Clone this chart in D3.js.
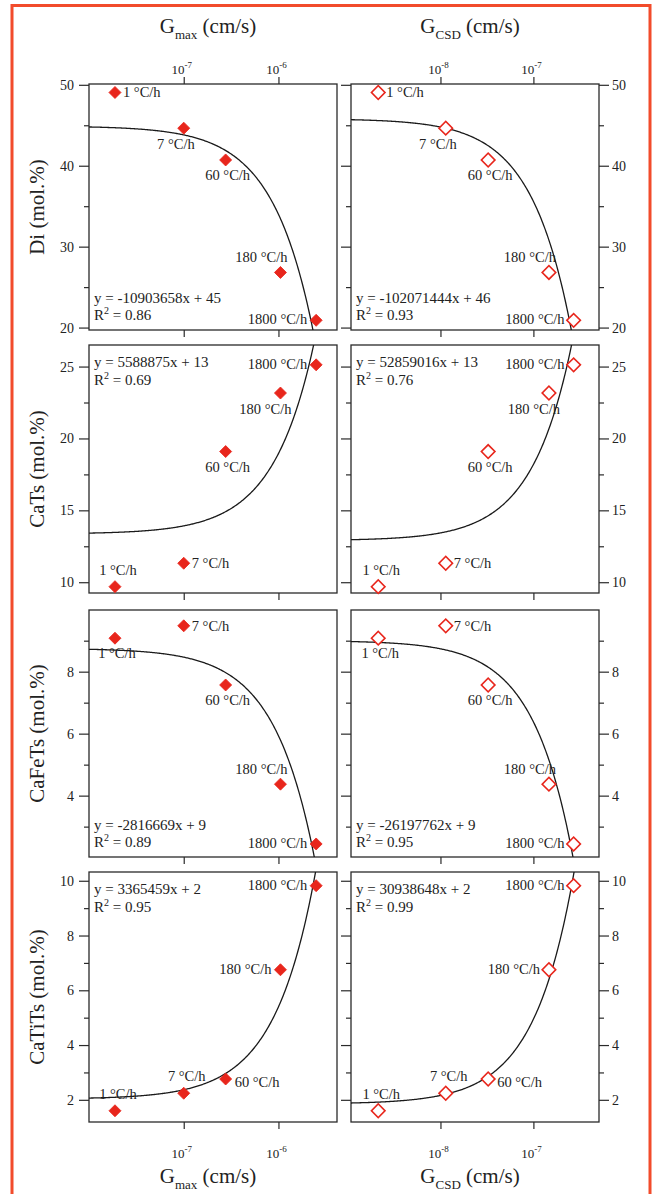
<!DOCTYPE html>
<html>
<head>
<meta charset="utf-8">
<script src="https://cdn.jsdelivr.net/npm/d3@7"></script>
<style>
  body { margin: 0; background: #fff; }
  svg text { font-family: "Liberation Serif", "Times New Roman", serif; fill: #222; }
</style>
</head>
<body>
<svg id="chart" width="656" height="1194"></svg>
<script>
// cooling rates (one point per rate in every panel)
const rates = ["1 °C/h", "7 °C/h", "60 °C/h", "180 °C/h", "1800 °C/h"];

// growth rates, cm/s
const gMax = [1.88e-8, 1.0e-7, 2.77e-7, 1.05e-6, 2.5e-6];
const gCsd = [2.14e-9, 1.14e-8, 3.26e-8, 1.47e-7, 2.71e-7];

// compositions, mol.%
const rowNames = ["Di", "CaTs", "CaFeTs", "CaTiTs"];
const di = [49.05, 44.64, 40.71, 26.81, 20.9];
const caTs = [9.69, 11.32, 19.09, 23.16, 25.12];
const caFeTs = [9.08, 9.48, 7.57, 4.37, 2.44];
const caTiTs = [1.6, 2.24, 2.76, 6.75, 9.82];
const rowValues = [di, caTs, caFeTs, caTiTs];

// linear fits y = a*x + b (b, eqInt as printed)
const slopeMax = [-10903658, 5588875, -2816669, 3365459];
const interceptMax = [44.9, 13.36, 8.75, 2.03];
const eqIntMax = [45, 13, 9, 2];
const r2Max = ["0.86", "0.69", "0.89", "0.95"];
const slopeCsd = [-102071444, 52859016, -26197762, 30938648];
const interceptCsd = [45.8, 12.9, 9.0, 1.85];
const eqIntCsd = [46, 13, 9, 2];
const r2Csd = ["0.93", "0.76", "0.95", "0.99"];

// axes
const yDomains = [[19.7, 50.1], [9.25, 26.5], [2.02, 9.99], [1.19, 10.32]];
const yMajor = [[20, 30, 40, 50], [10, 15, 20, 25], [4, 6, 8], [2, 4, 6, 8, 10]];
const yMinor = [[25, 35, 45], [12.5, 17.5, 22.5], [3, 5, 7, 9], [3, 5, 7, 9]];
const xDomMax = [1e-8, 4.15e-6];
const xDomCsd = [1.09e-9, 5.08e-7];
const xTicksMax = [1e-7, 1e-6];
const xExpMax = ["-7", "-6"];
const xTicksCsd = [1e-8, 1e-7];
const xExpCsd = ["-8", "-7"];

// ---- layout ----
const red = "#e8261c";
const ink = "#2a2a2a";
const font = "'Liberation Serif', 'Times New Roman', serif";

const cols = [
  { x0: 89, x1: 337, dom: xDomMax, g: gMax, ticks: xTicksMax, exps: xExpMax,
    slope: slopeMax, icpt: interceptMax, eqInt: eqIntMax, r2: r2Max, filled: true, sub: "max" },
  { x0: 351, x1: 599, dom: xDomCsd, g: gCsd, ticks: xTicksCsd, exps: xExpCsd,
    slope: slopeCsd, icpt: interceptCsd, eqInt: eqIntCsd, r2: r2Csd, filled: false, sub: "CSD" },
];
const rows = [
  { y0: 84, y1: 330, eqTop: false },
  { y0: 345, y1: 593, eqTop: true },
  { y0: 610, y1: 857, eqTop: false },
  { y0: 872, y1: 1122, eqTop: true },
];

// where each rate label sits relative to its point
const place = {
  r: { a: "start", dx: 8, dy: 5 },
  l: { a: "end", dx: -9, dy: 4 },
  b: { a: "middle", dx: 2, dy: 20 },
  bl: { a: "end", dx: 11, dy: 21 },
  al: { a: "end", dx: 7, dy: -10 },
  a: { a: "middle", dx: 3, dy: -12 },
  rb: { a: "start", dx: 9, dy: 8 },
};
const rowPlace = [
  ["r", "bl", "b", "al", "l"],
  ["a", "r", "b", "bl", "l"],
  ["b", "r", "b", "al", "l"],
  ["a", "a", "rb", "l", "l"],
];

const svg = d3.select("#chart");

// outer red frame (bottom edge runs off the page)
svg.append("rect")
  .attr("x", 12).attr("y", 5.5)
  .attr("width", 638).attr("height", 1260)
  .attr("fill", "none")
  .attr("stroke", "#f24b2b")
  .attr("stroke-width", 3);

const defs = svg.append("defs");

function styleAxis(sel) {
  sel.attr("color", ink).attr("font-family", font);
  sel.select(".domain").remove();
  sel.selectAll("line").attr("stroke-width", 1.2);
}

function powerLabel(sel, x, y, exp) {
  const t = sel.append("text")
    .attr("x", x).attr("y", y)
    .attr("text-anchor", "middle")
    .attr("font-size", 13);
  t.append("tspan").text("10");
  t.append("tspan").attr("dy", -6).attr("font-size", 9).text(exp);
}

rows.forEach((row, r) => {
  cols.forEach((col, c) => {
    const x = d3.scaleLog().domain(col.dom).range([col.x0, col.x1]);
    const y = d3.scaleLinear().domain(yDomains[r]).range([row.y1, row.y0]);
    const g = svg.append("g");
    const clipId = `clip-${r}-${c}`;

    defs.append("clipPath").attr("id", clipId)
      .append("rect")
      .attr("x", col.x0).attr("y", row.y0)
      .attr("width", col.x1 - col.x0).attr("height", row.y1 - row.y0);

    // y axes
    if (c === 0) {
      g.append("g").attr("transform", `translate(${col.x0},0)`)
        .call(d3.axisLeft(y).tickValues(yMajor[r]).tickSize(10).tickPadding(5).tickFormat(d3.format("d")))
        .call(styleAxis)
        .selectAll("text").attr("font-size", 14);
      g.append("g").attr("transform", `translate(${col.x0},0)`)
        .call(d3.axisLeft(y).tickValues(yMinor[r]).tickSize(5).tickFormat(""))
        .call(styleAxis);
    } else {
      g.append("g").attr("transform", `translate(${col.x1},0)`)
        .call(d3.axisRight(y).tickValues(yMajor[r]).tickSize(10).tickPadding(3).tickFormat(d3.format("d")))
        .call(styleAxis)
        .selectAll("text").attr("font-size", 14);
      g.append("g").attr("transform", `translate(${col.x1},0)`)
        .call(d3.axisRight(y).tickValues(yMinor[r]).tickSize(5).tickFormat(""))
        .call(styleAxis);
      g.append("g").attr("transform", `translate(${col.x0},0)`)
        .call(d3.axisLeft(y).tickValues(yMajor[r]).tickSize(10).tickFormat(""))
        .call(styleAxis);
      g.append("g").attr("transform", `translate(${col.x0},0)`)
        .call(d3.axisLeft(y).tickValues(yMinor[r]).tickSize(5).tickFormat(""))
        .call(styleAxis);
    }

    // x ticks
    g.append("g").attr("transform", `translate(0,${row.y1})`)
      .call(d3.axisBottom(x).tickValues(col.ticks).tickSize(7).tickFormat(""))
      .call(styleAxis);
    if (r === 0) {
      g.append("g").attr("transform", `translate(0,${row.y0})`)
        .call(d3.axisTop(x).tickValues(col.ticks).tickSize(7).tickFormat(""))
        .call(styleAxis);
      col.ticks.forEach((t, i) => powerLabel(g, x(t) - 2, row.y0 - 10, col.exps[i]));
    }
    if (r === rows.length - 1) {
      col.ticks.forEach((t, i) => powerLabel(g, x(t) - 2, row.y1 + 36, col.exps[i]));
    }

    // frame
    g.append("rect")
      .attr("x", col.x0).attr("y", row.y0)
      .attr("width", col.x1 - col.x0).attr("height", row.y1 - row.y0)
      .attr("fill", "none").attr("stroke", ink).attr("stroke-width", 1.3);

    // fit curve
    const lo = Math.log10(col.dom[0]), hi = Math.log10(col.dom[1]);
    const xs = d3.range(301).map((i) => Math.pow(10, lo + ((hi - lo) * i) / 300));
    const fit = (v) => col.slope[r] * v + col.icpt[r];
    g.append("path")
      .datum(xs)
      .attr("clip-path", `url(#${clipId})`)
      .attr("fill", "none")
      .attr("stroke", "#1a1a1a")
      .attr("stroke-width", 1.3)
      .attr("d", d3.line().x((v) => x(v)).y((v) => y(fit(v))));

    // points
    const pts = rates.map((lab, i) => ({ lab, gx: col.g[i], v: rowValues[r][i], p: rowPlace[r][i] }));
    g.selectAll("path.pt")
      .data(pts)
      .join("path")
      .attr("class", "pt")
      .attr("transform", (d) => `translate(${x(d.gx)},${y(d.v)}) rotate(45)`)
      .attr("d", d3.symbol(d3.symbolSquare, col.filled ? 72 : 92)())
      .attr("fill", col.filled ? red : "#fff")
      .attr("stroke", red)
      .attr("stroke-width", col.filled ? 0.8 : 1.6);

    g.selectAll("text.rate")
      .data(pts)
      .join("text")
      .attr("class", "rate")
      .attr("x", (d) => x(d.gx) + place[d.p].dx)
      .attr("y", (d) => y(d.v) + place[d.p].dy)
      .attr("text-anchor", (d) => place[d.p].a)
      .attr("font-size", 14.5)
      .text((d) => d.lab);

    // fit equation
    const ex = col.x0 + 5;
    const ey = row.eqTop ? [row.y0 + 22, row.y0 + 40] : [row.y1 - 27, row.y1 - 10];
    const s = col.slope[r];
    g.append("text")
      .attr("x", ex).attr("y", ey[0]).attr("font-size", 15)
      .text(`y = ${s < 0 ? "-" : ""}${Math.abs(s)}x + ${col.eqInt[r]}`);
    const rt = g.append("text").attr("x", ex).attr("y", ey[1]).attr("font-size", 15);
    rt.append("tspan").text("R");
    rt.append("tspan").attr("dy", -6).attr("font-size", 10).text("2");
    rt.append("tspan").attr("dy", 6).text(` = ${col.r2[r]}`);
  });

  // row title
  svg.append("text")
    .attr("transform", `translate(44,${(row.y0 + row.y1) / 2}) rotate(-90)`)
    .attr("text-anchor", "middle")
    .attr("font-size", 21)
    .text(`${rowNames[r]} (mol.%)`);
});

// column titles, top and bottom
cols.forEach((col) => {
  const cx = (col.x0 + col.x1) / 2 - 5;
  [33, 1183].forEach((by) => {
    const t = svg.append("text")
      .attr("x", cx).attr("y", by)
      .attr("text-anchor", "middle")
      .attr("font-size", 21);
    t.append("tspan").text("G");
    t.append("tspan").attr("dy", 6).attr("font-size", 13).text(col.sub);
    t.append("tspan").attr("dy", -6).text(" (cm/s)");
  });
});
</script>
</body>
</html>
